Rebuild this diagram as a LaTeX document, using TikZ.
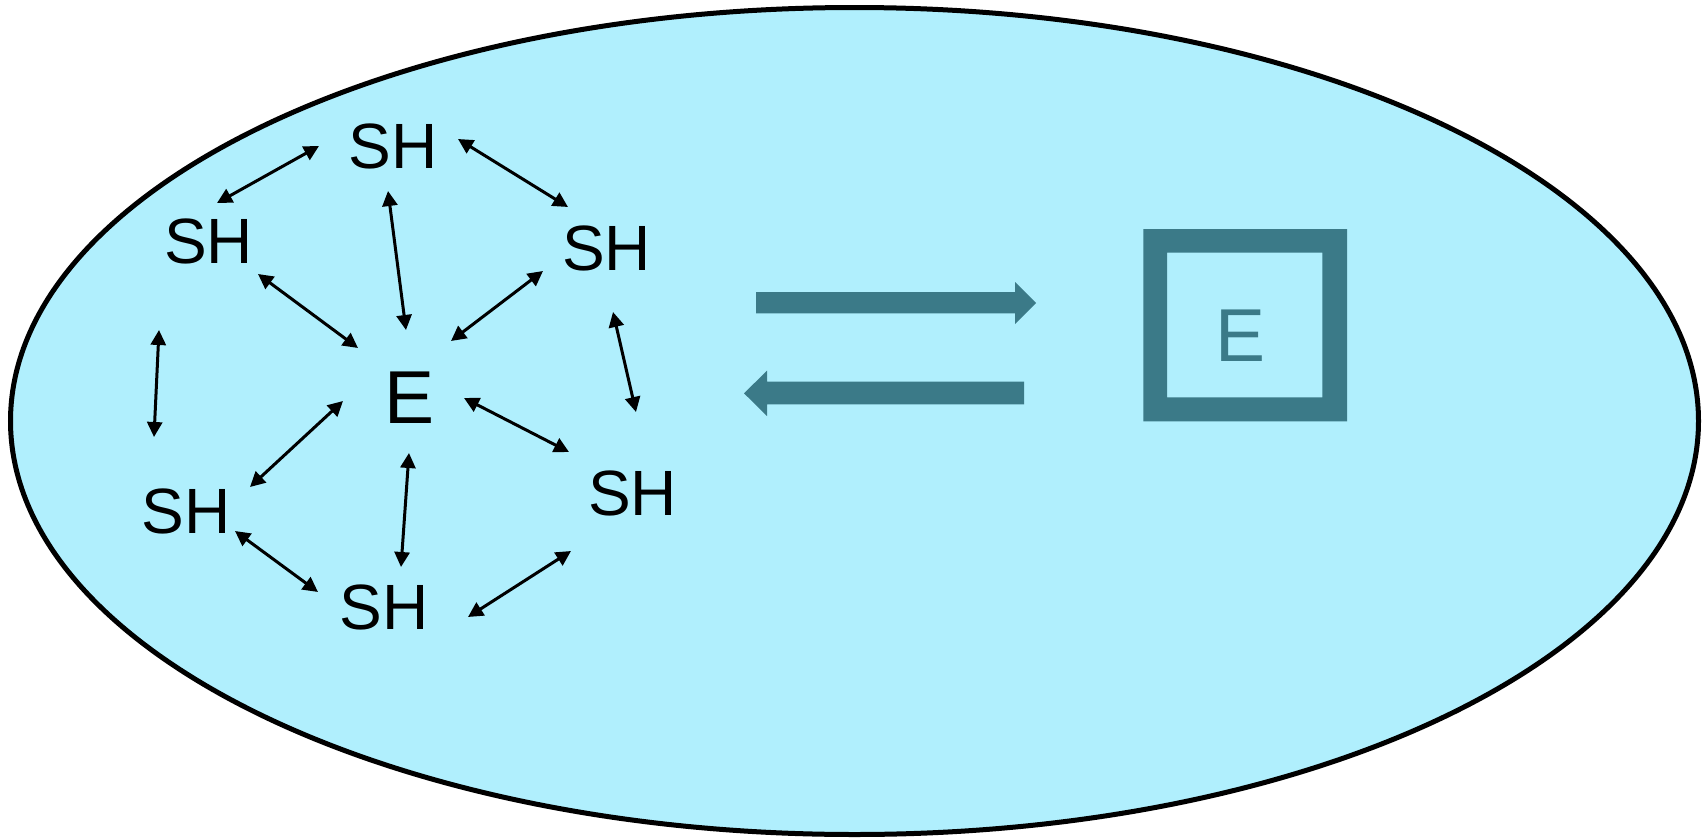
\documentclass[tikz,border=0pt]{standalone}
\usepackage{fontspec}
\setmainfont{Liberation Sans}
\usetikzlibrary{arrows.meta}
\definecolor{pool}{RGB}{176,239,253}
\definecolor{deepteal}{RGB}{59,122,136}
\begin{document}
\begin{tikzpicture}[x=1pt,y=-1pt,
  sh/.style={inner sep=0pt, text height=45.8pt, text depth=0pt,
    font=\fontsize{64}{64}\selectfont},
  enz/.style={inner sep=0pt, text height=53.7pt, text depth=0pt,
    font=\fontsize{75}{75}\selectfont},
  link/.style={line width=3pt,
    {Triangle[length=15pt,width=15pt]}-{Triangle[length=15pt,width=15pt]}},
  bigarrow/.style={fill=deepteal}]
\useasboundingbox (0,0) rectangle (1703,838);

% the surrounding medium
\draw[line width=5pt, fill=pool] (854.5,421) ellipse [x radius=844, y radius=413.5];

% enzyme surrounded by SH groups
\node[enz] (e)   at (409.5,397) {E};
\node[sh]  (sh1) at (393,146)   {SH};
\node[sh]  (sh2) at (208.5,240.5) {SH};
\node[sh]  (sh3) at (606.5,247.5) {SH};
\node[sh]  (sh4) at (186,510.5) {SH};
\node[sh]  (sh5) at (384,607)   {SH};
\node[sh]  (sh6) at (632.5,493) {SH};

% exchanges between the groups
\draw[link] ([shift={(-74,0)}]sh1.center)    -- ([shift={(8.5,-37.5)}]sh2.center);
\draw[link] ([shift={(65,-7)}]sh1.center)    -- ([shift={(-38.5,-40.5)}]sh3.center);
\draw[link] ([shift={(-5,45)}]sh1.center)    -- ([shift={(-3.5,-67)}]e.center);
\draw[link] ([shift={(49.5,33.5)}]sh2.center) -- ([shift={(-51.5,-49)}]e.center);
\draw[link] ([shift={(-63.5,23.5)}]sh3.center) -- ([shift={(41.5,-56)}]e.center);
\draw[link] ([shift={(-49.5,89.5)}]sh2.center) -- ([shift={(-32,-73.5)}]sh4.center);
\draw[link] ([shift={(-66.5,4)}]e.center)    -- ([shift={(64,-23.5)}]sh4.center);
\draw[link] ([shift={(54.5,1)}]e.center)     -- ([shift={(-63.5,-41)}]sh6.center);
\draw[link] ([shift={(-0.5,56)}]e.center)    -- ([shift={(17,-40)}]sh5.center);
\draw[link] ([shift={(49,20.5)}]sh4.center)  -- ([shift={(-66,-15)}]sh5.center);
\draw[link] ([shift={(84,10)}]sh5.center)    -- ([shift={(-61.5,58)}]sh6.center);
\draw[link] ([shift={(6.5,64.5)}]sh3.center) -- ([shift={(3.5,-81)}]sh6.center);

% equilibrium arrows
\fill[bigarrow] (756,292) -- (1015,292) -- (1015,282) -- (1036,303)
  -- (1015,324) -- (1015,313.3) -- (756,313.3) -- cycle;
\fill[bigarrow] (1024,381.7) -- (767,381.7) -- (767,370.7) -- (744,393.3)
  -- (767,416) -- (767,404.3) -- (1024,404.3) -- cycle;

% enclosed enzyme
\fill[deepteal, even odd rule] (1143.3,229) rectangle (1347,421.3)
  (1167,252.7) rectangle (1322.4,397.3);
\node[enz, text=deepteal] (boxe) at (1240.6,334.7) {E};
\end{tikzpicture}
\end{document}
